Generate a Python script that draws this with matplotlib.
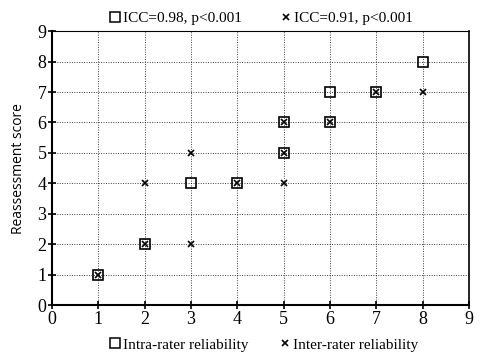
import matplotlib
matplotlib.use("Agg")
import matplotlib.pyplot as plt
from matplotlib.lines import Line2D

intra_x = [1, 2, 3, 4, 5, 5, 6, 6, 7, 8]
intra_y = [1, 2, 4, 4, 5, 6, 6, 7, 7, 8]
inter_x = [1, 2, 2, 3, 3, 4, 5, 5, 5, 6, 7, 8]
inter_y = [1, 2, 4, 2, 5, 4, 4, 5, 6, 6, 7, 7]
series_names = ["Intra-rater reliability", "Inter-rater reliability"]
stats_labels = ["ICC=0.98, p<0.001", "ICC=0.91, p<0.001"]
ticks = list(range(0, 10))
ylabel = "Reassessment score"

serif = "Liberation Serif"
fig = plt.figure(figsize=(4.82, 3.58), dpi=100)
ax = fig.add_axes([0.108, 0.148, 0.865, 0.765])

ax.plot(intra_x, intra_y, linestyle="none", marker="s", markersize=7.5,
        markerfacecolor="none", markeredgecolor="black", markeredgewidth=1.2, zorder=3)
ax.plot(inter_x, inter_y, linestyle="none", marker="x", markersize=4.2,
        color="black", markeredgewidth=1.2, zorder=4)

ax.set_xlim(0, 9)
ax.set_ylim(0, 9)
ax.set_xticks(ticks)
ax.set_yticks(ticks)
ax.grid(True, color="black", linestyle=(0, (1, 1.5)), linewidth=0.7, alpha=0.75)
ax.set_axisbelow(True)
for lab in ax.get_xticklabels() + ax.get_yticklabels():
    lab.set_fontfamily(serif)
    lab.set_fontsize(13)
ax.tick_params(direction="inout", length=6, width=1.2, pad=1)
ax.spines["left"].set_linewidth(1.5)
ax.spines["bottom"].set_linewidth(1.5)
ax.spines["right"].set_linewidth(1.2)
ax.spines["top"].set_linewidth(0.8)
ax.set_ylabel(ylabel, fontsize=10, fontfamily="Open Sans", labelpad=8)

h_sq = Line2D([], [], linestyle="none", marker="s", markersize=7,
              markerfacecolor="none", markeredgecolor="black", markeredgewidth=1.1)
h_x = Line2D([], [], linestyle="none", marker="x", markersize=3.8,
             color="black", markeredgewidth=1.2)

fig.legend([h_sq, h_x], stats_labels, loc="center", bbox_to_anchor=(0.54, 0.948),
           ncol=2, frameon=False, prop={"family": serif, "size": 11},
           handletextpad=0.0, columnspacing=2.4, handlelength=1.0)
fig.legend([h_sq, h_x], series_names, loc="center", bbox_to_anchor=(0.545, 0.037),
           ncol=2, frameon=False, prop={"family": serif, "size": 11},
           handletextpad=0.0, columnspacing=1.9, handlelength=1.0)

fig.savefig("out.png", dpi=100)
